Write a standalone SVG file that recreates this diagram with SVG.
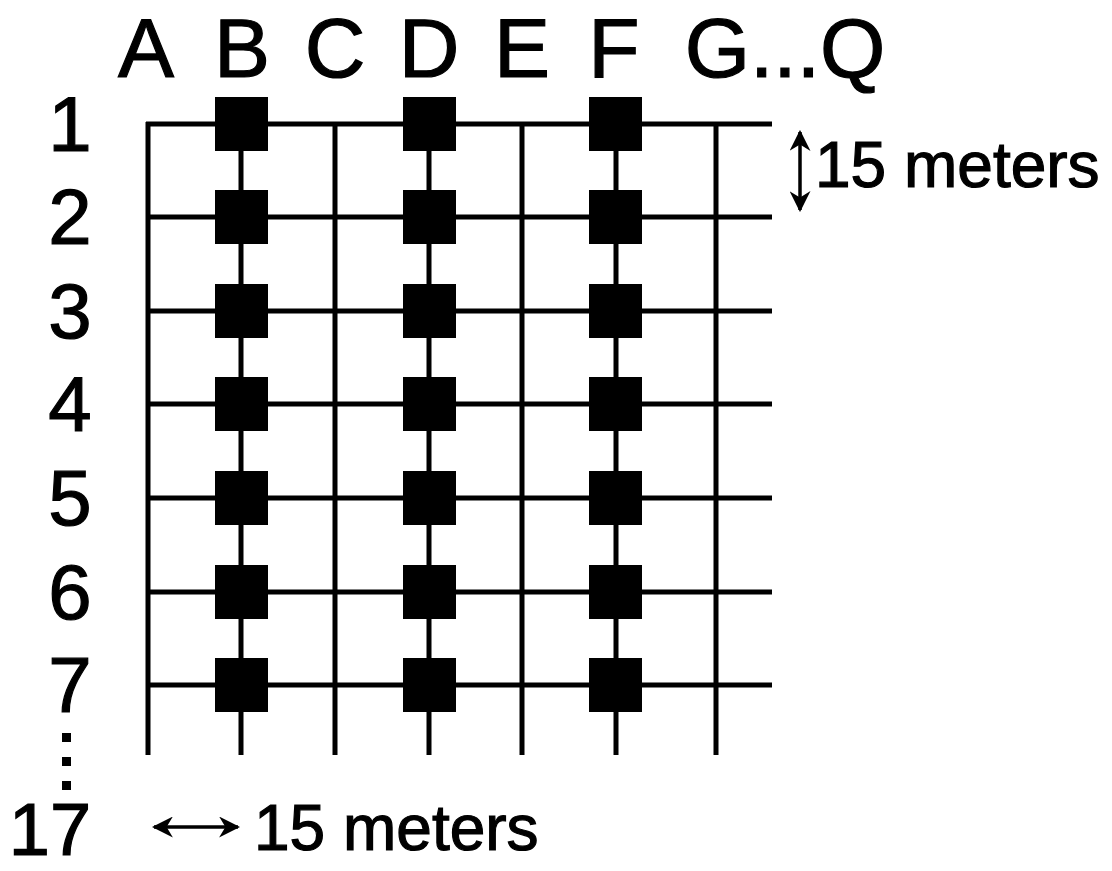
<svg xmlns="http://www.w3.org/2000/svg" width="1112" height="871" viewBox="0 0 1112 871">
<style>
.grid line{stroke:#000;stroke-width:5;stroke-linecap:butt}
.lbl{font-family:"Liberation Sans",Arial,sans-serif;fill:#000;stroke:#000;stroke-width:1.2}
.col{font-size:84px;text-anchor:middle}
.row{font-size:78px;text-anchor:middle}
.dim{font-size:64px}
.sq{fill:#000}
.arr{stroke:#000;stroke-width:3.5;fill:none}
</style>
<defs>
<marker id="ah" viewBox="0 0 10 10" refX="9" refY="5" markerWidth="6" markerHeight="6" orient="auto-start-reverse" markerUnits="strokeWidth">
<path d="M0,0 L10,5 L0,10 L3,5 Z" fill="#000"/>
</marker>
</defs>
<rect width="1112" height="871" fill="#fff"/>
<g id="connectors" class="grid">
<line x1="148" y1="122" x2="148" y2="755"/>
<line x1="241" y1="122" x2="241" y2="755"/>
<line x1="335" y1="122" x2="335" y2="755"/>
<line x1="429" y1="122" x2="429" y2="755"/>
<line x1="522" y1="122" x2="522" y2="755"/>
<line x1="616" y1="122" x2="616" y2="755"/>
<line x1="716" y1="122" x2="716" y2="755"/>
<line x1="146" y1="124" x2="772" y2="124"/>
<line x1="146" y1="217" x2="772" y2="217"/>
<line x1="146" y1="311" x2="772" y2="311"/>
<line x1="146" y1="404" x2="772" y2="404"/>
<line x1="146" y1="498" x2="772" y2="498"/>
<line x1="146" y1="592" x2="772" y2="592"/>
<line x1="146" y1="685" x2="772" y2="685"/>
</g>
<g id="nodes-B" class="sq">
<rect x="215" y="97" width="53" height="54"/>
<rect x="215" y="190" width="53" height="54"/>
<rect x="215" y="284" width="53" height="54"/>
<rect x="215" y="377" width="53" height="54"/>
<rect x="215" y="471" width="53" height="54"/>
<rect x="215" y="565" width="53" height="54"/>
<rect x="215" y="658" width="53" height="54"/>
</g>
<g id="nodes-D" class="sq">
<rect x="403" y="97" width="53" height="54"/>
<rect x="403" y="190" width="53" height="54"/>
<rect x="403" y="284" width="53" height="54"/>
<rect x="403" y="377" width="53" height="54"/>
<rect x="403" y="471" width="53" height="54"/>
<rect x="403" y="565" width="53" height="54"/>
<rect x="403" y="658" width="53" height="54"/>
</g>
<g id="nodes-F" class="sq">
<rect x="589" y="97" width="53" height="54"/>
<rect x="589" y="190" width="53" height="54"/>
<rect x="589" y="284" width="53" height="54"/>
<rect x="589" y="377" width="53" height="54"/>
<rect x="589" y="471" width="53" height="54"/>
<rect x="589" y="565" width="53" height="54"/>
<rect x="589" y="658" width="53" height="54"/>
</g>
<g id="col-labels" class="lbl col">
<text x="146" y="77">A</text>
<text x="242" y="77">B</text>
<text x="335" y="77">C</text>
<text x="429" y="77">D</text>
<text x="522" y="77">E</text>
<text x="614" y="77">F</text>
<text x="785" y="77">G...Q</text>
</g>
<g id="row-labels" class="lbl row">
<text x="70" y="151">1</text>
<text x="70" y="244">2</text>
<text x="70" y="338">3</text>
<text x="70" y="431">4</text>
<text x="70" y="525">5</text>
<text x="70" y="619">6</text>
<text x="70" y="712">7</text>
<text x="50" y="855" style="font-size:74px">17</text>
</g>
<g id="ellipsis" class="sq">
<rect x="62" y="733" width="9" height="9"/>
<rect x="62" y="757" width="9" height="9"/>
<rect x="62" y="781" width="9" height="9"/>
</g>
<g id="dim-vertical">
<line class="arr" x1="800" y1="132" x2="800" y2="210" marker-start="url(#ah)" marker-end="url(#ah)"/>
<text class="lbl dim" x="815" y="187">15 meters</text>
</g>
<g id="dim-horizontal">
<line class="arr" x1="154" y1="827" x2="238" y2="827" marker-start="url(#ah)" marker-end="url(#ah)"/>
<text class="lbl dim" x="254" y="850">15 meters</text>
</g>
</svg>
